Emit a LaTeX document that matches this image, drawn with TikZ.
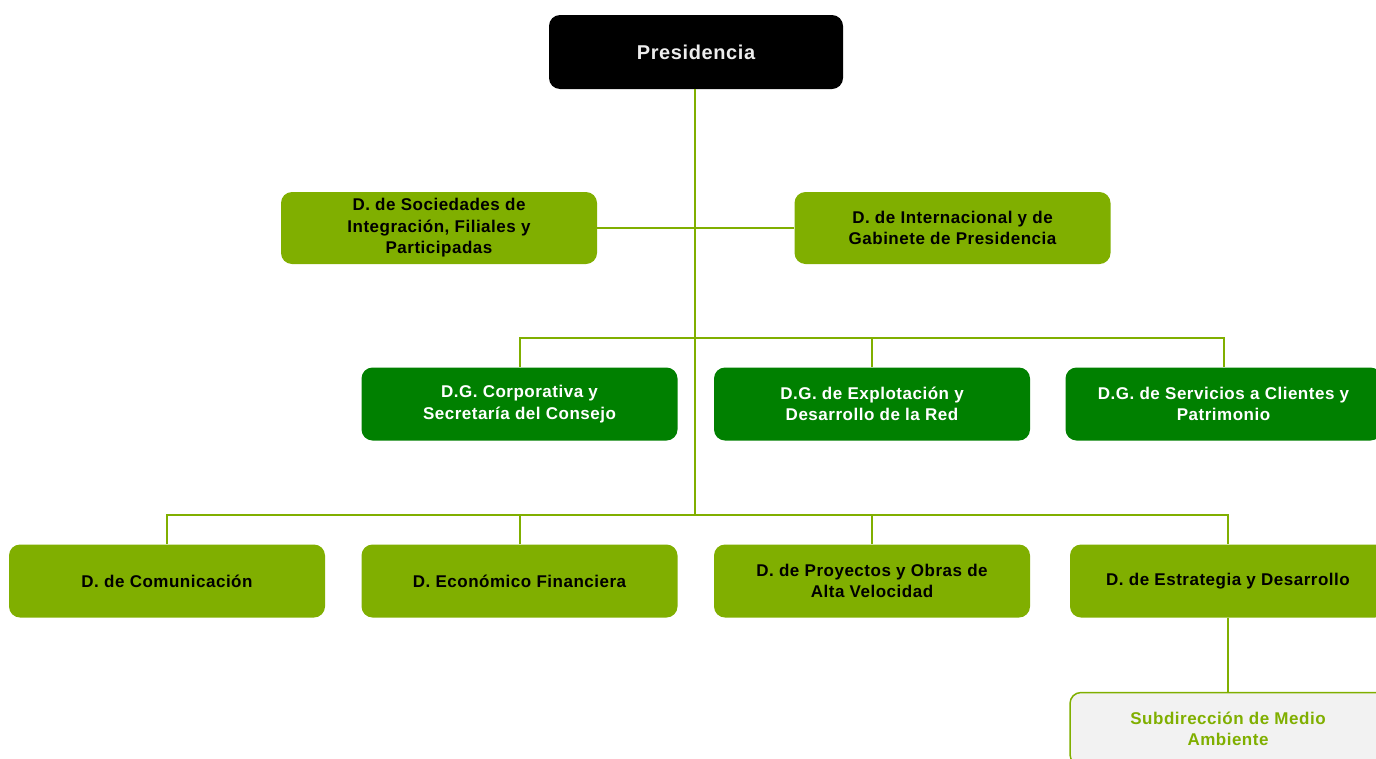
\documentclass[tikz,border=0pt]{standalone}
\usepackage{fontspec}
\setmainfont{Liberation Sans}[LetterSpace=3]
\definecolor{lgreen}{HTML}{80AF00}
\definecolor{dgreen}{HTML}{008000}
\definecolor{lgray}{HTML}{F2F2F2}
\tikzset{
  box/.style={rectangle, rounded corners=11pt, minimum height=73pt, align=center,
    font=\fontsize{17}{21.5}\selectfont\bfseries, inner sep=2pt},
  lbox/.style={box, fill=lgreen, text=black, minimum width=316pt},
  dbox/.style={box, fill=dgreen, text=white, minimum width=316pt},
  pbox/.style={box, fill=black, text=white!93!black, minimum width=294pt, minimum height=74pt,
    font=\fontsize{20}{24}\selectfont\bfseries},
  sbox/.style={box, fill=lgray, draw=lgreen, line width=1.5pt, text=lgreen, minimum width=316pt},
  conn/.style={draw=lgreen, line width=2pt}
}
\begin{document}
\begin{tikzpicture}[x=1pt,y=-1pt]
\useasboundingbox (0,0) rectangle (1376,758);
\node[pbox] (pres) at (696,52) {Presidencia};
\node[lbox, minimum height=72pt] (soc) at (439,228) {D. de Sociedades de\\Integración, Filiales y\\Participadas};
\node[lbox, minimum height=72pt] (int) at (952.5,228) {D. de Internacional y de\\Gabinete de Presidencia};
\node[dbox] (dgc) at (519.5,404) {D.G. Corporativa y\\Secretaría del Consejo};
\node[dbox] (dge) at (872,404) {D.G. de Explotación y\\Desarrollo de la Red};
\node[dbox] (dgs) at (1223.5,404) {D.G. de Servicios a Clientes y\\Patrimonio};
\node[lbox] (com) at (167,581) {D. de Comunicación};
\node[lbox] (eco) at (519.5,581) {D. Económico Financiera};
\node[lbox] (pro) at (872,581) {D. de Proyectos y Obras de\\Alta Velocidad};
\node[lbox] (est) at (1228,581) {D. de Estrategia y Desarrollo};
\node[sbox] (sub) at (1228,729) {Subdirección de Medio\\Ambiente};
\coordinate (jb) at (695,515);
\draw[conn] (pres.south -| jb) -- (jb);
\draw[conn] (soc.east) -- (int.west);
\draw[conn] (dgc.north) -- ++(0,-29) -| (dgs.north);
\draw[conn] (dge.north) -- ++(0,-29);
\draw[conn] (com.north) -- ++(0,-29) -| (est.north);
\draw[conn] (eco.north) -- ++(0,-29);
\draw[conn] (pro.north) -- ++(0,-29);
\draw[conn] (est.south) -- (sub.north);
\end{tikzpicture}
\end{document}
